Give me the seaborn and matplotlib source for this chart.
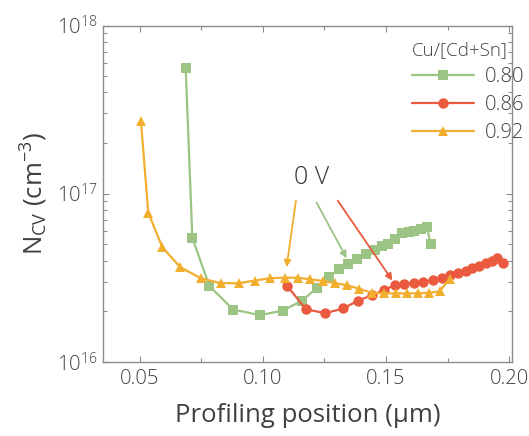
import math
import matplotlib
matplotlib.use("Agg")
import matplotlib.pyplot as plt
import matplotlib.ticker as mticker
import seaborn as sns
import pandas as pd

# Profiling position (um) and carrier density (cm^-3) for each Cu/[Cd+Sn] ratio
x_080 = [0.0686, 0.0713, 0.0782, 0.0879, 0.0988, 0.1080, 0.1160, 0.1220, 0.1270,
         0.1310, 0.1347, 0.1384, 0.1419, 0.1455, 0.1485, 0.1508, 0.1535, 0.1566,
         0.1592, 0.1615, 0.1641, 0.1667, 0.1681]
n_080 = [5.59e17, 5.46e16, 2.83e16, 2.05e16, 1.90e16, 2.02e16, 2.32e16, 2.77e16, 3.21e16,
         3.59e16, 3.83e16, 4.10e16, 4.37e16, 4.66e16, 4.88e16, 5.04e16, 5.37e16, 5.87e16,
         5.92e16, 6.04e16, 6.21e16, 6.38e16, 5.01e16]

x_086 = [0.1098, 0.1174, 0.1253, 0.1326, 0.1387, 0.1442, 0.1491, 0.1535, 0.1574,
         0.1615, 0.1651, 0.1689, 0.1728, 0.1760, 0.1791, 0.1824, 0.1851, 0.1879,
         0.1905, 0.1930, 0.1953, 0.1977]
n_086 = [2.84e16, 2.06e16, 1.95e16, 2.08e16, 2.32e16, 2.49e16, 2.68e16, 2.86e16, 2.91e16,
         2.95e16, 3.00e16, 3.06e16, 3.17e16, 3.28e16, 3.37e16, 3.48e16, 3.61e16, 3.74e16,
         3.86e16, 3.99e16, 4.16e16, 3.90e16]

x_092 = [0.0504, 0.0534, 0.0591, 0.0664, 0.0747, 0.0828, 0.0902, 0.0969, 0.1028,
         0.1089, 0.1141, 0.1192, 0.1244, 0.1293, 0.1341, 0.1390, 0.1442, 0.1491,
         0.1539, 0.1585, 0.1631, 0.1675, 0.1718, 0.1759]
n_092 = [2.72e17, 7.72e16, 4.81e16, 3.66e16, 3.15e16, 2.94e16, 2.94e16, 3.05e16, 3.15e16,
         3.17e16, 3.17e16, 3.10e16, 3.03e16, 2.94e16, 2.86e16, 2.73e16, 2.58e16, 2.56e16,
         2.56e16, 2.56e16, 2.56e16, 2.58e16, 2.63e16, 3.13e16]

ratios = ["0.80", "0.86", "0.92"]
colors = ["#9cc484", "#ea5a3e", "#f2ae2e"]
markers = ["s", "o", "^"]

# "0 V" arrows: (tail x, tail y, head x, head y) per series
arrow_080 = (0.1218, 8.85e16, 0.1340, 4.14e16)
arrow_086 = (0.1304, 9.1e16, 0.1526, 3.05e16)
arrow_092 = (0.1134, 9.1e16, 0.1096, 3.66e16)

sns.set_theme(style="ticks")
plt.rcParams["font.family"] = ["Open Sans", "DejaVu Sans"]
plt.rcParams["font.weight"] = "light"
plt.rcParams["mathtext.default"] = "regular"

text_color = "#404040"
spine_color = "#8c8c8c"

fig = plt.figure(figsize=(5.29, 4.36), dpi=100)
ax = fig.add_axes([0.1947, 0.1697, 0.9679 - 0.1947, 0.9415 - 0.1697])

series = [(x_080, n_080), (x_086, n_086), (x_092, n_092)]
for (xs, ns), lab, col, mk in zip(series, ratios, colors, markers):
    df = pd.DataFrame({"x": xs, "n": ns})
    sns.lineplot(data=df, x="x", y="n", ax=ax, sort=False, estimator=None,
                 color=col, marker=mk, markersize=7 if mk != "o" else 7.5,
                 markeredgewidth=0, linewidth=1.6, label=lab)

ax.set_yscale("log")
ax.set_xlim(0.035, 0.2012)
ax.set_ylim(1e16, 1e18)

ax.xaxis.set_major_locator(mticker.MultipleLocator(0.05))
ax.xaxis.set_minor_locator(mticker.MultipleLocator(0.025))
ax.xaxis.set_major_formatter(mticker.FormatStrFormatter("%.2f"))
ax.yaxis.set_major_locator(mticker.LogLocator(base=10, numticks=5))
ax.yaxis.set_minor_locator(mticker.LogLocator(base=10, subs=range(2, 10), numticks=20))
ax.yaxis.set_major_formatter(mticker.FuncFormatter(
    lambda v, p: r"$10^{%d}$" % round(math.log10(v))))
ax.yaxis.set_minor_formatter(mticker.NullFormatter())

ax.tick_params(which="both", direction="in", top=True, right=True,
               color=spine_color, width=0.8, labelsize=14.5, labelcolor=text_color)
ax.tick_params(which="major", length=4)
ax.tick_params(which="minor", length=3)
ax.tick_params(axis="x", which="major", pad=5)
ax.tick_params(axis="y", which="major", pad=4)
for s in ax.spines.values():
    s.set_color(spine_color)
    s.set_linewidth(1.0)

ax.set_xlabel("Profiling position (\u03bcm)", fontsize=18.5, color=text_color, labelpad=10)
ax.set_ylabel(r"N$_{CV}$ (cm$^{-3}$)", fontsize=18.5, color=text_color, labelpad=5)

for (x0, y0, x1, y1), col in zip([arrow_092, arrow_080, arrow_086],
                                 [colors[2], colors[0], colors[1]]):
    ax.annotate("", xy=(x1, y1), xytext=(x0, y0),
                arrowprops=dict(arrowstyle="-|>", color=col, lw=1.3,
                                mutation_scale=10, shrinkA=0, shrinkB=0))
ax.text(0.1199, 1.25e17, "0 V", fontsize=18, color="#333333", ha="center", va="center")

leg = ax.legend(title="Cu/[Cd+Sn]", loc="upper left", frameon=False,
                fontsize=14.5, title_fontsize=13.5, handlelength=3.1,
                labelspacing=0.4, borderaxespad=0.0, borderpad=0.0,
                handletextpad=0.55, alignment="left",
                bbox_to_anchor=(0.755, 0.955))
for t in leg.get_texts():
    t.set_color(text_color)
leg.get_title().set_color(text_color)

fig.savefig("out.png", dpi=100)
